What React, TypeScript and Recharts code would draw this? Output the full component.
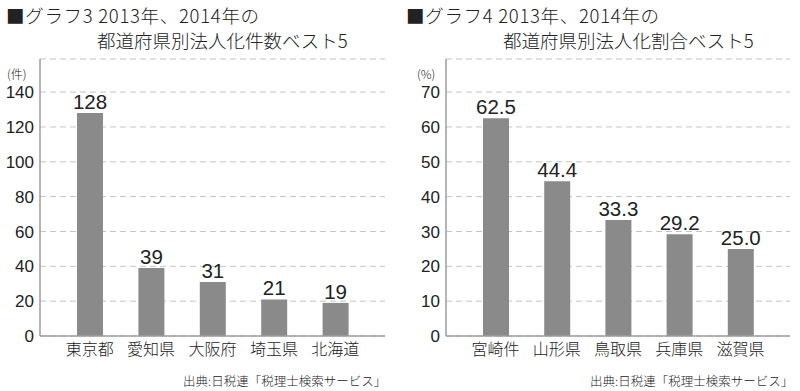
import React from 'react';
import { BarChart, Bar, XAxis, YAxis, CartesianGrid, LabelList } from 'recharts';

const countPrefs = ['東京都', '愛知県', '大阪府', '埼玉県', '北海道'];
const countValues = [128, 39, 31, 21, 19];
const countTicks = [0, 20, 40, 60, 80, 100, 120, 140];

const ratioPrefs = ['宮崎件', '山形県', '鳥取県', '兵庫県', '滋賀県'];
const ratioValues = [62.5, 44.4, 33.3, 29.2, 25.0];
const ratioTicks = [0, 10, 20, 30, 40, 50, 60, 70];

const JP_FONT = '"Noto Sans CJK JP", "Noto Sans", sans-serif';
const NUM_FONT = '"Liberation Sans", Arial, sans-serif';
const BORDER = '#9c9c9c';
const BAR = '#8a8a8a';
const TEXT = '#222';

interface PanelProps {
  left: number;
  titleNo: string;
  subtitle: string;
  subtitleLeft: number;
  unit: string;
  unitLeft: number;
  names: string[];
  values: number[];
  ticks: number[];
  domainMax: number;
  axisWidth: number;
  rightMargin: number;
  decimals: number;
  sourceLeft: number;
}

const Panel = (p: PanelProps) => {
  const data = p.names.map((name, i) => ({ name, value: p.values[i] }));
  return (
    <div style={{ position: 'absolute', left: p.left, top: 0, width: 400, height: 391 }}>
      <div style={{ position: 'absolute', left: 6, top: 5, fontFamily: JP_FONT, fontWeight: 300, fontSize: 18.5, letterSpacing: 0.7, color: TEXT, whiteSpace: 'nowrap', lineHeight: '20px' }}>
        ■グラフ{p.titleNo} 2013年、2014年の
      </div>
      <div style={{ position: 'absolute', left: p.subtitleLeft, top: 30, fontFamily: JP_FONT, fontWeight: 300, fontSize: 18.5, color: TEXT, whiteSpace: 'nowrap', lineHeight: '20px' }}>
        {p.subtitle}
      </div>
      <div style={{ position: 'absolute', left: p.unitLeft, top: 67, fontFamily: JP_FONT, fontWeight: 300, fontSize: 12, color: TEXT, whiteSpace: 'nowrap', lineHeight: '13px' }}>
        {p.unit}
      </div>
      <BarChart
        width={400}
        height={391}
        data={data}
        margin={{ top: 59, right: p.rightMargin, bottom: 25, left: 0 }}
        style={{ position: 'absolute', left: 0, top: 0 }}
      >
        <CartesianGrid vertical={false} stroke="#c4c4c4" strokeDasharray="6 4" />
        <XAxis
          dataKey="name"
          padding={{ left: 19, right: 19 }}
          height={30}
          axisLine={{ stroke: BORDER, strokeWidth: 1.5 }}
          tickLine={false}
          tick={{ fill: TEXT, fontSize: 16, fontFamily: JP_FONT, fontWeight: 300 }}
        />
        <XAxis
          xAxisId="top"
          orientation="top"
          dataKey="name"
          height={0}
          axisLine={{ stroke: BORDER, strokeWidth: 1.5 }}
          tick={false}
          tickLine={false}
        />
        <YAxis
          type="number"
          domain={[0, p.domainMax]}
          ticks={p.ticks}
          width={p.axisWidth}
          axisLine={{ stroke: BORDER, strokeWidth: 1.5 }}
          tickLine={false}
          tickSize={0}
          tickMargin={6}
          tick={{ fill: TEXT, fontSize: 17, fontFamily: NUM_FONT }}
        />
        <YAxis
          yAxisId="right"
          orientation="right"
          type="number"
          domain={[0, p.domainMax]}
          width={0}
          axisLine={{ stroke: BORDER, strokeWidth: 1.5 }}
          tick={false}
          tickLine={false}
        />
        <Bar dataKey="value" fill={BAR} barSize={26} isAnimationActive={false}>
          <LabelList
            dataKey="value"
            position="top"
            offset={4}
            formatter={(v: number) => v.toFixed(p.decimals)}
            style={{ fill: TEXT, fontSize: 20.5, fontFamily: NUM_FONT }}
          />
        </Bar>
      </BarChart>
      <div style={{ position: 'absolute', left: p.sourceLeft, top: 373, fontFamily: JP_FONT, fontWeight: 300, fontSize: 12.5, color: TEXT, whiteSpace: 'nowrap', lineHeight: '15px' }}>
        出典:日税連「税理士検索サービス」
      </div>
    </div>
  );
};

export default function App() {
  return (
    <div style={{ position: 'absolute', left: 0, top: 0, width: 800, height: 391, background: '#fff', overflow: 'hidden' }}>
      <Panel
        left={0}
        titleNo="3"
        subtitle="都道府県別法人化件数ベスト5"
        subtitleLeft={97}
        unit="(件)"
        unitLeft={7}
        names={countPrefs}
        values={countValues}
        ticks={countTicks}
        domainMax={159}
        axisWidth={40}
        rightMargin={15}
        decimals={0}
        sourceLeft={183}
      />
      <Panel
        left={400}
        titleNo="4"
        subtitle="都道府県別法人化割合ベスト5"
        subtitleLeft={103}
        unit="(%)"
        unitLeft={17}
        names={ratioPrefs}
        values={ratioValues}
        ticks={ratioTicks}
        domainMax={79.5}
        axisWidth={46}
        rightMargin={10}
        decimals={1}
        sourceLeft={190}
      />
    </div>
  );
}
